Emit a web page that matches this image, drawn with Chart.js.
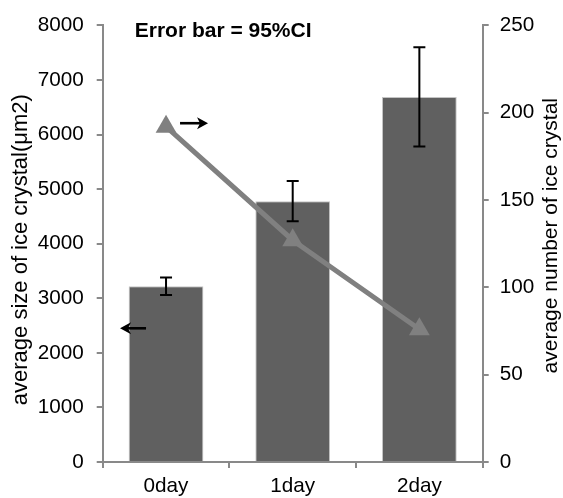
<!DOCTYPE html>
<html>
<head>
<meta charset="utf-8">
<script src="https://cdn.jsdelivr.net/npm/chart.js@4.4.0/dist/chart.umd.min.js"></script>
<style>
  html, body { margin: 0; padding: 0; background: #fff; }
  #wrap { width: 563px; height: 498px; position: relative; }
</style>
</head>
<body>
<div id="wrap"><canvas id="iceChart"></canvas></div>
<script>
// values
const days = ['0day', '1day', '2day'];
const crystalSize = [3220, 4780, 6690];   // average size (um2), bars, left axis
const sizeCI = [162, 370, 910];           // half width of 95% CI
const crystalCount = [192, 127, 76];      // average number, line, right axis
const sizeAxis = [0, 8000, 1000];         // min, max, step
const countAxis = [0, 250, 50];

const axisGray = '#898989';
const fontFam = "'Liberation Sans', Arial, sans-serif";
Chart.defaults.font.family = fontFam;
Chart.defaults.color = '#000';

// error bars on the size bars
const errorBars = {
    id: 'errorBars',
    afterDatasetsDraw(chart) {
        const ctx = chart.ctx;
        const xs = chart.scales.x, ys = chart.scales.y;
        ctx.save();
        ctx.strokeStyle = '#000';
        ctx.lineWidth = 2;
        crystalSize.forEach((v, i) => {
            const cx = xs.getPixelForValue(i);
            const top = ys.getPixelForValue(v + sizeCI[i]);
            const bot = ys.getPixelForValue(v - sizeCI[i]);
            ctx.beginPath();
            ctx.moveTo(cx, top); ctx.lineTo(cx, bot);
            ctx.moveTo(cx - 6, top); ctx.lineTo(cx + 6, top);
            ctx.moveTo(cx - 6, bot); ctx.lineTo(cx + 6, bot);
            ctx.stroke();
        });
        ctx.restore();
    }
};

function arrow(ctx, x1, x2, y) {
    const dir = Math.sign(x2 - x1);
    ctx.beginPath();
    ctx.moveTo(x1, y); ctx.lineTo(x2 - dir * 6, y);
    ctx.stroke();
    ctx.beginPath();
    ctx.moveTo(x2, y);
    ctx.lineTo(x2 - dir * 11, y - 6);
    ctx.lineTo(x2 - dir * 8, y);
    ctx.lineTo(x2 - dir * 11, y + 6);
    ctx.closePath();
    ctx.fill();
}

function sideTitle(ctx, text, x, y, size) {
    ctx.save();
    ctx.translate(x, y);
    ctx.rotate(-Math.PI / 2);
    ctx.textAlign = 'center';
    ctx.textBaseline = 'middle';
    ctx.font = size + 'px ' + fontFam;
    ctx.fillText(text, 0, 0);
    ctx.restore();
}

// note text, axis arrows and the axis titles
const notes = {
    id: 'notes',
    afterDraw(chart) {
        const ctx = chart.ctx;
        const area = chart.chartArea;
        const c0 = chart.scales.x.getPixelForValue(0);
        const mid = (area.top + area.bottom) / 2;
        ctx.save();
        ctx.fillStyle = '#000';
        ctx.strokeStyle = '#000';
        ctx.lineWidth = 2.6;
        ctx.font = 'bold 21px ' + fontFam;
        ctx.textBaseline = 'middle';
        ctx.textAlign = 'left';
        ctx.fillText('Error bar = 95%CI', area.left + 32, area.top + 6);

        arrow(ctx, c0 + 14, c0 + 42, chart.scales.y1.getPixelForValue(194));
        arrow(ctx, c0 - 20, c0 - 46, chart.scales.y.getPixelForValue(2450));

        sideTitle(ctx, 'average size of ice crystal(\u03bcm2)', chart.scales.y.left + 21, mid + 6, 22);
        sideTitle(ctx, 'average number of ice crystal', chart.scales.y1.right - 12, mid - 8, 21);
        ctx.restore();
    }
};

const plainNum = v => String(v);

const ctx = document.getElementById('iceChart').getContext('2d');
new Chart(ctx, {
    type: 'bar',
    data: {
        labels: days,
        datasets: [{
            type: 'line',
            data: crystalCount,
            yAxisID: 'y1',
            borderColor: '#808080',
            borderWidth: 5,
            pointStyle: 'triangle',
            pointRadius: 12,
            pointBackgroundColor: '#808080',
            pointBorderWidth: 0,
            order: 1
        }, {
            data: crystalSize,
            yAxisID: 'y',
            backgroundColor: '#606060',
            borderColor: '#c4c4c4',
            borderWidth: 1,
            barPercentage: 0.59,
            categoryPercentage: 1,
            order: 2
        }]
    },
    options: {
        responsive: true,
        maintainAspectRatio: false,
        animation: false,
        layout: { padding: { top: 24, left: 0, right: 0, bottom: 0 } },
        plugins: {
            legend: { display: false },
            tooltip: { enabled: false }
        },
        scales: {
            x: {
                afterFit: s => { s.height = 36; },
                grid: { drawOnChartArea: false, tickLength: 6, color: axisGray, lineWidth: 2, offset: true },
                border: { color: axisGray, width: 2 },
                ticks: { font: { size: 20.7 }, padding: 6, color: '#000' }
            },
            y: {
                position: 'left',
                min: sizeAxis[0], max: sizeAxis[1],
                afterFit: s => { s.width = 102.7; },
                grid: { drawOnChartArea: false, tickLength: 6, color: axisGray, lineWidth: 2 },
                border: { color: axisGray, width: 2 },
                ticks: { stepSize: sizeAxis[2], font: { size: 20.7 }, padding: 13, color: '#000', callback: plainNum }
            },
            y1: {
                position: 'right',
                min: countAxis[0], max: countAxis[1],
                afterFit: s => { s.width = 80.3; },
                grid: { drawOnChartArea: false, tickLength: 6, color: axisGray, lineWidth: 2 },
                border: { color: axisGray, width: 2 },
                ticks: { stepSize: countAxis[2], font: { size: 20.7 }, padding: 11, color: '#000', callback: plainNum }
            }
        }
    },
    plugins: [errorBars, notes]
});
</script>
</body>
</html>
